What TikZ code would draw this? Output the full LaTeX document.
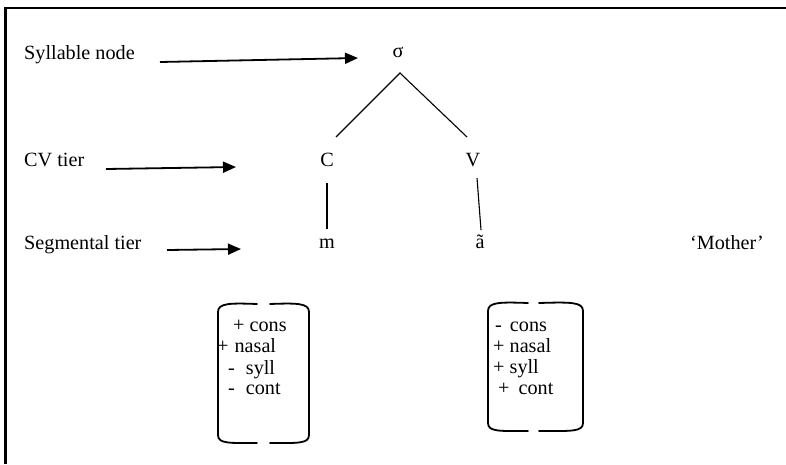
\documentclass[tikz,border=0pt]{standalone}
\usepackage{fontspec}
\setmainfont{Liberation Serif}
\usetikzlibrary{arrows.meta}
\begin{document}
\begin{tikzpicture}[x=1pt,y=-1pt,
  txt/.style={inner sep=0pt,font=\fontsize{20.2pt}{22pt}\selectfont},
  lbl/.style={txt,anchor=base west},
  seg/.style={txt,anchor=base},
  branch/.style={line width=1.1pt},
  pointer/.style={line width=1.8pt,-{Triangle[length=13pt,width=11pt]}},
  matrixside/.style={line width=1.8pt,line cap=round}]
\useasboundingbox (0,0) rectangle (786,464);
% frame (top and left edges)
\draw[line width=2.6pt] (5.5,464) -- (5.5,8) -- (786,8);

% tier labels
\node[lbl] (lsyl) at (24,59.5) {Syllable node};
\node[lbl] (lcv)  at (24,166.5) {CV tier};
\node[lbl] (lseg) at (24,249.5) {Segmental tier};

% tree
\node[seg] (sig) at (398,57.5) {σ};
\node[seg] (C) at (327,166.5) {C};
\node[seg] (V) at (473,166.5) {V};
\node[seg] (m) at (327,248) {m};
\node[seg] (a) at (480,248) {ã};
\node[lbl] (gloss) at (690,249.5) {‘Mother’};

% attachment points of the association lines
\coordinate (sigtop) at (400,73);
\coordinate (Cup) at (336,137);
\coordinate (Vup) at (467,137);
\coordinate (Cdown) at (327,183);
\coordinate (mup) at (327,229);
\coordinate (Vdown) at (477,178);
\coordinate (aup) at (481,230);
\draw[branch] (Cup) -- (sigtop) -- (Vup);
\draw[branch] (Cdown) -- (mup);
\draw[branch] (Vdown) -- (aup);

% pointers from the labels to the tiers
\coordinate (p1s) at (160,62);
\coordinate (p1e) at (358,58);
\coordinate (p2s) at (106,169);
\coordinate (p2e) at (236,167);
\coordinate (p3s) at (167,250);
\coordinate (p3e) at (241,249);
\draw[pointer] (p1s) -- (p1e);
\draw[pointer] (p2s) -- (p2e);
\draw[pointer] (p3s) -- (p3e);

% feature matrix of m
\draw[matrixside] (257,304) .. controls (230,303) and (218,303) .. (218,312)
  -- (218,435) .. controls (218,444) and (230,443) .. (257,443);
\draw[matrixside] (270,304) .. controls (297,303) and (309,303) .. (309,312)
  -- (309,435) .. controls (309,444) and (297,443) .. (270,443);
\node[lbl] (mf1) at (233,331) {+ cons};
\node[lbl] (mf2) at (217,352) {+\hspace{6pt}nasal};
\node[lbl] (mf3) at (228,374) {-\hspace{11pt}syll};
\node[lbl] (mf4) at (228,394.5) {-\hspace{11pt}cont};

% feature matrix of ã
\draw[matrixside] (528,303) .. controls (500,302) and (488,302) .. (488,311)
  -- (488,423) .. controls (488,432) and (500,431) .. (528,431);
\draw[matrixside] (539,303) .. controls (571,302) and (583,302) .. (583,311)
  -- (583,423) .. controls (583,432) and (571,431) .. (539,431);
\node[lbl] (af1) at (495,331) {-\hspace{8pt}cons};
\node[lbl] (af2) at (493,352) {+ nasal};
\node[lbl] (af3) at (493,373) {+ syll};
\node[lbl] (af4) at (498,394) {+\hspace{9pt}cont};
\end{tikzpicture}
\end{document}
